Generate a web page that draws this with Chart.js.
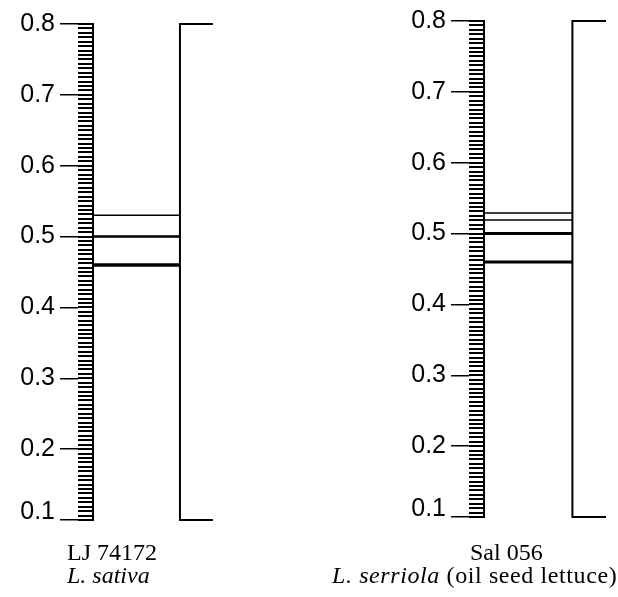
<!DOCTYPE html>
<html>
<head>
<meta charset="utf-8">
<script src="https://cdn.jsdelivr.net/npm/chart.js@4.4.1/dist/chart.umd.min.js"></script>
<style>
  body { margin: 0; background: #fff; }
  #wrap { position: relative; width: 618px; height: 597px; overflow: hidden; }
  canvas { position: absolute; }
  .lbl { position: absolute; font-family: "Liberation Serif", serif; font-size: 24px; line-height: 24px; color: #000; white-space: nowrap; }
</style>
</head>
<body>
<div id="wrap">
  <canvas id="chartLJ" width="230" height="545" style="left:0;top:0"></canvas>
  <canvas id="chartSal" width="227" height="545" style="left:391px;top:-3px"></canvas>
  <div class="lbl" style="left:67px;top:540px">LJ 74172</div>
  <div class="lbl" style="left:67px;top:563px"><i>L. sativa</i></div>
  <div class="lbl" style="left:470px;top:540px">Sal 056</div>
  <div class="lbl" style="left:332px;top:563px;letter-spacing:0.6px"><i>L. serriola</i> (oil seed lettuce)</div>
</div>
<script>
// relative mobility scale
const yMin = 0.1;
const yMax = 0.8;
const majorStep = 0.1;
const minorStep = 0.00625;

// bands (Rf) for each accession
const bandsLJ = [0.53, 0.50, 0.46];
const widthsLJ = [1.5, 2.5, 3.5];
const bandsSal = [0.529, 0.519, 0.50, 0.46];
const widthsSal = [1.5, 1.5, 3, 3];

// lane frame, x in lane widths (0 = ruler, 1 = lane edge)
const laneEdge = 1;
const stubEnd = 1.38;

function makePanel(id, bands, widths, padTop, padBottom, padRight) {
  const datasets = bands.map((b, i) => ({
    data: [{ x: 0, y: b }, { x: laneEdge, y: b }],
    borderWidth: widths[i],
  }));
  datasets.push({
    data: [
      { x: stubEnd, y: yMax },
      { x: laneEdge, y: yMax },
      { x: laneEdge, y: yMin },
      { x: stubEnd, y: yMin },
    ],
    borderWidth: 2,
  });
  datasets.forEach(d => {
    d.showLine = true;
    d.pointRadius = 0;
    d.borderColor = "#000";
    d.borderCapStyle = "butt";
    d.clip = false;
  });

  return new Chart(id, {
    type: "scatter",
    data: { datasets: datasets },
    options: {
      responsive: false,
      animation: false,
      layout: { padding: { left: 0, right: padRight, top: padTop, bottom: padBottom } },
      plugins: { legend: { display: false }, tooltip: { enabled: false } },
      scales: {
        x: { type: "linear", min: 0, max: stubEnd, display: false },
        y: {
          position: "left",
          weight: 0,
          min: yMin,
          max: yMax,
          ticks: { stepSize: minorStep, display: false },
          grid: { drawOnChartArea: false, tickLength: 15, lineWidth: 2, color: "#000" },
          border: { display: true, width: 2, color: "#000" },
          afterFit: s => { s.width = 15; },
        },
        yMajor: {
          position: "left",
          weight: 1,
          min: yMin,
          max: yMax,
          ticks: {
            stepSize: majorStep,
            padding: 5,
            color: "#000",
            font: { family: "Liberation Sans", size: 25, lineHeight: 0.6 },
            callback: v => (Math.abs(v - yMin) < 1e-6 ? [v.toFixed(1), ""] : v.toFixed(1)),
          },
          grid: { drawOnChartArea: false, tickLength: 18, lineWidth: 1.5, color: "#000" },
          border: { display: false },
          afterFit: s => { s.width = 78; },
        },
      },
    },
  });
}

makePanel("chartLJ", bandsLJ, widthsLJ, 24, 25, 17);
makePanel("chartSal", bandsSal, widthsSal, 24, 25, 12);
</script>
</body>
</html>
